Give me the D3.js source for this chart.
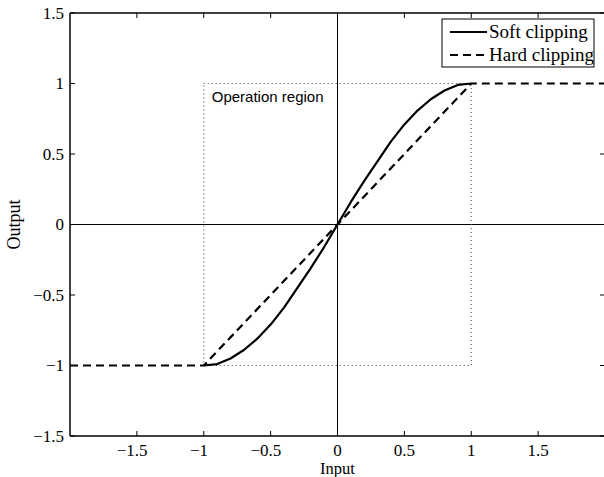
<!DOCTYPE html>
<html>
<head>
<meta charset="utf-8">
<script src="https://cdn.jsdelivr.net/npm/d3@7"></script>
<style>
  html, body { margin: 0; padding: 0; background: #fff; }
  svg { display: block; }
  .serif { font-family: "Liberation Serif", "Times New Roman", serif; fill: #000; }
</style>
</head>
<body>
<svg id="chart" width="604" height="477"></svg>
<script>
// Input samples of the soft clipping curve and its output values
const softInput  = [-1, -0.9, -0.8, -0.7, -0.6, -0.5, -0.4, -0.3, -0.2, -0.1, 0,
                    0.1, 0.2, 0.3, 0.4, 0.5, 0.6, 0.7, 0.8, 0.9, 1];
const softOutput = [-1, -0.99, -0.95, -0.89, -0.81, -0.71, -0.59, -0.45, -0.31, -0.16, 0,
                    0.16, 0.31, 0.45, 0.59, 0.71, 0.81, 0.89, 0.95, 0.99, 1];
// Hard clipping: linear between -1 and 1, flat outside
const hardInput  = [-2, -1, 1, 2];
const hardOutput = [-1, -1, 1, 1];
// Operation region corners
const regionInput  = [-1, 1];
const regionOutput = [-1, 1];
// Axis ticks
const xTicks = [-1.5, -1, -0.5, 0, 0.5, 1, 1.5];
const yTicks = [-1.5, -1, -0.5, 0, 0.5, 1, 1.5];
const seriesNames = ["Soft clipping", "Hard clipping"];

const svg = d3.select("#chart");
const L = 70, R = 605, T = 13, B = 436;
const x = d3.scaleLinear().domain([-2, 2]).range([L, R]);
const y = d3.scaleLinear().domain([-1.5, 1.5]).range([B, T]);
const tickLen = 5;
const fmt = v => String(Math.abs(v));

// zero lines
svg.append("line").attr("x1", x(0)).attr("x2", x(0)).attr("y1", T).attr("y2", B)
  .attr("stroke", "#000").attr("stroke-width", 1);
svg.append("line").attr("x1", L).attr("x2", R).attr("y1", y(0)).attr("y2", y(0))
  .attr("stroke", "#000").attr("stroke-width", 1);

// operation region (dotted)
svg.append("rect")
  .attr("x", x(regionInput[0])).attr("y", y(regionOutput[1]))
  .attr("width", x(regionInput[1]) - x(regionInput[0]))
  .attr("height", y(regionOutput[0]) - y(regionOutput[1]))
  .attr("fill", "none").attr("stroke", "#444").attr("stroke-width", 1)
  .attr("stroke-dasharray", "1,3");
svg.append("text")
  .attr("x", x(regionInput[0]) + 8).attr("y", y(regionOutput[1]) + 18)
  .attr("font-family", "'Liberation Sans', Arial, sans-serif")
  .attr("font-size", 15).attr("fill", "#000")
  .text("Operation region");

// curves
const line = d3.line().x(d => x(d[0])).y(d => y(d[1]));
svg.append("path")
  .datum(hardInput.map((v, i) => [v, hardOutput[i]]))
  .attr("d", line).attr("fill", "none").attr("stroke", "#000")
  .attr("stroke-width", 2.2).attr("stroke-dasharray", "8,5");
svg.append("path")
  .datum(softInput.map((v, i) => [v, softOutput[i]]))
  .attr("d", line).attr("fill", "none").attr("stroke", "#000")
  .attr("stroke-width", 2.2).attr("stroke-linejoin", "round");

// frame
const frame = svg.append("g").attr("stroke", "#000").attr("stroke-width", 1.5);
frame.append("line").attr("x1", L).attr("x2", R).attr("y1", T).attr("y2", T);
frame.append("line").attr("x1", L).attr("x2", R).attr("y1", B).attr("y2", B);
frame.append("line").attr("x1", L).attr("x2", L).attr("y1", T).attr("y2", B);
frame.append("line").attr("x1", R).attr("x2", R).attr("y1", T).attr("y2", B);

// ticks on all four sides
const tg = svg.append("g").attr("stroke", "#000").attr("stroke-width", 1);
xTicks.forEach(v => {
  tg.append("line").attr("x1", x(v)).attr("x2", x(v)).attr("y1", B).attr("y2", B - tickLen);
  tg.append("line").attr("x1", x(v)).attr("x2", x(v)).attr("y1", T).attr("y2", T + tickLen);
});
yTicks.forEach(v => {
  tg.append("line").attr("x1", L).attr("x2", L + tickLen).attr("y1", y(v)).attr("y2", y(v));
  tg.append("line").attr("x1", R).attr("x2", R - tickLen).attr("y1", y(v)).attr("y2", y(v));
});

// x tick labels: number centred on the tick, minus sign hanging to the left
const tickFont = 17;
const xLabelY = 456;
xTicks.forEach(v => {
  const t = svg.append("text").attr("class", "serif")
    .attr("x", x(v)).attr("y", xLabelY).attr("text-anchor", "middle")
    .attr("font-size", tickFont).text(fmt(v));
  if (v < 0) {
    const w = t.node().getComputedTextLength();
    svg.append("text").attr("class", "serif")
      .attr("x", x(v) - w / 2).attr("y", xLabelY).attr("text-anchor", "end")
      .attr("font-size", tickFont).text("\u2212");
  }
});
// y tick labels
yTicks.forEach(v => {
  svg.append("text").attr("class", "serif")
    .attr("x", 64).attr("y", y(v)).attr("dy", "0.35em").attr("text-anchor", "end")
    .attr("font-size", tickFont).text((v < 0 ? "\u2212" : "") + fmt(v));
});

// axis titles
svg.append("text").attr("class", "serif")
  .attr("x", x(0)).attr("y", 474).attr("text-anchor", "middle")
  .attr("font-size", 16.5).text("Input");
svg.append("text").attr("class", "serif")
  .attr("transform", `translate(20,${y(0)}) rotate(-90)`)
  .attr("text-anchor", "middle").attr("font-size", 18).text("Output");

// legend
const lg = svg.append("g");
lg.append("rect").attr("x", 442).attr("y", 19).attr("width", 152).attr("height", 48)
  .attr("fill", "#fff").attr("stroke", "#000").attr("stroke-width", 1);
const rows = [32, 55];
seriesNames.forEach((name, i) => {
  lg.append("line").attr("x1", 450).attr("x2", 487).attr("y1", rows[i]).attr("y2", rows[i])
    .attr("stroke", "#000").attr("stroke-width", 2.2)
    .attr("stroke-dasharray", i === 1 ? "8,5" : null);
  lg.append("text").attr("class", "serif")
    .attr("x", 489).attr("y", rows[i] + 6).attr("font-size", 19).text(name);
});
</script>
</body>
</html>
